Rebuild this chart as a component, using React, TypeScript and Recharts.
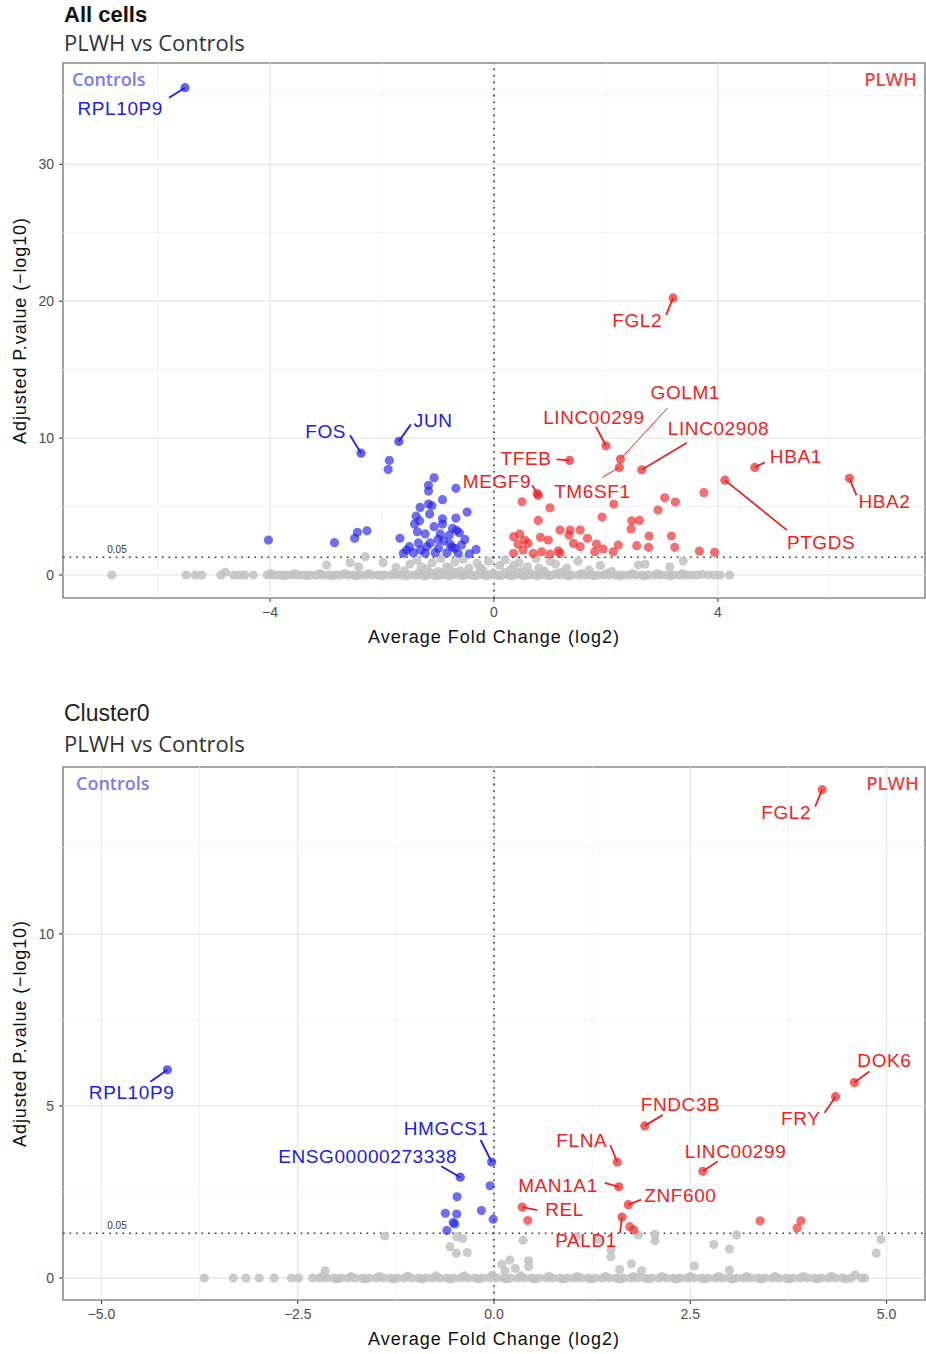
import React from "react";
import {
  ScatterChart,
  Scatter,
  XAxis,
  YAxis,
  ReferenceLine,
  ReferenceArea,
} from "recharts";

type Pt = [number, number];
type Gene = { gene: string; x: number; y: number; side: "down" | "up" };
type Place = [number, number, "start" | "middle" | "end", number, number];

// ---- All cells ----
const allXTicks = [-4, 0, 4];
const allXMinor = [-6, -2, 2, 6];
const allYTicks = [0, 10, 20, 30];
const allYMinor = [5, 15, 25, 35];

const allNs: Pt[] = [
  [-6.83, 0], [-5.5, 0], [-5.34, 0], [-5.22, 0], [-4.88, 0], [-4.8, 0.2], [-4.65, 0], [-4.54, 0], [-4.45, 0], [-4.3, 0],
  [-4.05, 0], [-3.93, 0], [-3.84, 0], [-3.71, 0], [-3.62, 0], [-3.5, 0], [-3.41, 0], [-3.28, 0], [-3.17, 0], [-3.06, 0],
  [-2.95, 0], [-2.83, 0], [-2.74, 0], [-2.61, 0], [-2.52, 0], [-2.4, 0], [-2.31, 0], [-2.18, 0], [-2.07, 0], [-1.96, 0],
  [-1.85, 0], [-1.73, 0], [-1.64, 0], [-1.52, 0], [-1.41, 0], [-1.3, 0], [-1.19, 0], [-1.08, 0], [-0.97, 0], [-0.86, 0],
  [-0.74, 0], [-0.63, 0], [-0.52, 0], [-0.41, 0], [-0.3, 0], [-0.19, 0], [-0.08, 0], [0.04, 0], [0.15, 0], [0.26, 0],
  [0.37, 0], [0.49, 0], [0.6, 0], [0.71, 0], [0.83, 0], [0.94, 0], [1.05, 0], [1.17, 0], [1.28, 0], [1.39, 0],
  [1.51, 0], [1.62, 0], [1.73, 0], [1.85, 0], [1.96, 0], [2.07, 0], [2.19, 0], [2.3, 0], [2.41, 0], [2.53, 0],
  [2.64, 0], [2.75, 0], [2.87, 0], [2.98, 0], [3.09, 0], [3.21, 0], [3.32, 0], [3.43, 0], [3.62, 0], [3.83, 0],
  [4.04, 0], [4.21, 0],
  [-3.99, 0.1], [-3.77, -0.05], [-3.56, 0.1], [-3.34, -0.05], [-3.11, 0.1], [-2.89, -0.05], [-2.67, 0.1],
  [-2.46, -0.05], [-2.24, 0.1], [-2.01, -0.05], [-1.79, 0.1], [-1.58, -0.05], [-1.35, 0.12], [-1.24, -0.05],
  [-1.13, 0.15], [-1.02, -0.05], [-0.91, 0.18], [-0.8, -0.05], [-0.68, 0.2], [-0.57, -0.05], [-0.46, 0.15],
  [-0.35, -0.05], [-0.24, 0.2], [-0.13, -0.05], [-0.02, 0.15], [0.09, -0.05], [0.2, 0.18], [0.31, -0.05],
  [0.43, 0.15], [0.54, -0.05], [0.65, 0.12], [0.77, -0.05], [0.88, 0.12], [0.99, -0.05], [1.11, 0.1],
  [1.33, -0.05], [1.56, 0.1], [1.79, -0.05], [2.01, 0.1], [2.24, -0.05], [2.47, 0.1], [2.69, -0.05],
  [2.92, 0.1], [3.15, -0.05], [3.37, 0.1], [3.52, 0], [3.72, 0.05], [3.94, 0],
  [-2.99, 0.73], [-2.57, 0.9], [-2.3, 1.34], [-2.42, 0.6], [-1.98, 0.9], [-1.75, 0.55], [-1.5, 0.8], [-1.38, 1.1],
  [-1.2, 0.45], [-1.1, 0.9], [-0.95, 1.2], [-0.85, 0.6], [-0.7, 0.95], [-0.55, 1.15], [-0.45, 0.5], [-0.3, 0.85],
  [-0.2, 0.35], [-0.1, 1.0], [0.1, 0.7], [0.2, 1.1], [0.3, 0.4], [0.45, 0.9], [0.6, 0.6], [0.75, 1.2], [0.9, 0.3],
  [1.1, 0.8], [1.3, 0.5], [1.5, 1.0], [1.7, 0.35], [1.9, 0.7], [2.1, 0.25], [2.58, 0.73], [2.7, 0.8], [3.14, 0.6],
  [3.38, 1.02], [-1.6, 0.3], [-1.0, 0.25], [-0.6, 0.3], [0.5, 0.25], [1.2, 0.2], [-1.3, 0.6], [-0.8, 0.45],
  [-0.25, 0.55], [0.35, 0.7], [0.8, 0.5], [1.0, 1.0],
];

const allDown: Pt[] = [
  [-1.87, 8.37], [-1.89, 7.7], [-1.07, 7.1], [-1.17, 6.55], [-1.17, 6.13], [-0.68, 6.33], [-0.92, 5.5], [-1.32, 4.94],
  [-1.17, 5.18], [-1.11, 5.06], [-0.48, 4.6], [-1.15, 4.45], [-0.68, 4.16], [-1.39, 4.3], [-1.42, 3.72], [-1.33, 3.96],
  [-0.92, 4.1], [-0.92, 3.72], [-1.07, 3.53], [-0.74, 3.4], [-0.67, 3.26], [-1.37, 3.16], [-1.23, 3.0], [-0.96, 3.0],
  [-0.8, 2.9], [-0.62, 3.09], [-1.68, 2.68], [-0.52, 2.6], [-1.35, 2.34], [-1.14, 2.34], [-0.79, 2.26], [-1.51, 2.07],
  [-1.2, 2.07], [-0.99, 1.95], [-0.7, 1.95], [-0.32, 1.87], [-1.62, 1.58], [-1.44, 1.63], [-1.23, 1.58], [-1.05, 1.63],
  [-0.84, 1.63], [-0.64, 1.58], [-0.44, 1.55], [-1.56, 1.82], [-1.31, 1.82], [-4.03, 2.55], [-2.85, 2.36],
  [-2.49, 2.68], [-2.44, 3.12], [-2.27, 3.23], [-0.9, 2.5], [-0.75, 2.05], [-1.0, 2.6], [-0.58, 2.2],
];

const allUp: Pt[] = [
  [0.5, 5.35], [0.77, 5.96], [1.0, 4.91], [2.14, 5.18], [1.93, 4.23], [0.79, 3.99], [3.05, 5.64], [3.24, 5.33],
  [3.75, 6.01], [2.93, 4.74], [2.46, 3.96], [2.6, 3.99], [2.45, 3.36], [1.18, 3.28], [1.36, 3.28], [1.54, 3.28],
  [1.34, 2.92], [1.67, 2.68], [2.77, 2.85], [3.17, 2.85], [0.35, 2.8], [0.46, 2.99], [0.83, 2.75], [0.97, 2.55],
  [0.61, 2.31], [1.54, 2.07], [1.83, 2.26], [2.22, 2.19], [2.55, 2.14], [2.76, 2.02], [3.23, 2.02], [3.67, 1.75],
  [3.94, 1.66], [2.13, 1.7], [1.95, 1.9], [1.8, 1.7], [0.35, 1.58], [0.52, 1.82], [0.7, 1.58], [0.85, 1.7],
  [1.0, 1.53], [1.15, 1.77], [1.42, 2.31], [1.18, 1.58], [0.43, 2.26], [0.55, 2.55],
];

const allGenes: Gene[] = [
  { gene: "RPL10P9", x: -5.52, y: 35.6, side: "down" },
  { gene: "FOS", x: -2.375, y: 8.9, side: "down" },
  { gene: "JUN", x: -1.7, y: 9.76, side: "down" },
  { gene: "FGL2", x: 3.2, y: 20.24, side: "up" },
  { gene: "GOLM1", x: 2.26, y: 8.47, side: "up" },
  { gene: "LINC00299", x: 2.0, y: 9.44, side: "up" },
  { gene: "LINC02908", x: 2.64, y: 7.69, side: "up" },
  { gene: "TFEB", x: 1.35, y: 8.37, side: "up" },
  { gene: "TM6SF1", x: 2.24, y: 7.86, side: "up" },
  { gene: "MEGF9", x: 0.79, y: 5.82, side: "up" },
  { gene: "HBA1", x: 4.66, y: 7.86, side: "up" },
  { gene: "HBA2", x: 6.35, y: 7.06, side: "up" },
  { gene: "PTGDS", x: 4.125, y: 6.93, side: "up" },
];

// label text offset (dx, dy, anchor) and leader end (lx, ly), in pixels
const allPlace: Record<string, Place> = {
  RPL10P9: [-22, 27, "end", -16, 10],
  FOS: [-15, -15, "end", -11, -18],
  JUN: [15, -14, "start", 12, -17],
  FGL2: [-11, 29, "end", -7, 17],
  GOLM1: [30, -60, "start", 47, -51],
  LINC00299: [-12, -22, "middle", -10, -19],
  LINC02908: [26, -35, "start", 45, -27],
  TFEB: [-18, 5, "end", -13, -1],
  TM6SF1: [-27, 31, "middle", -17, 10],
  MEGF9: [-7, -7, "end", -6, -10],
  HBA1: [15, -4, "start", 10, -5],
  HBA2: [9, 30, "start", 7, 17],
  PTGDS: [62, 69, "start", 62, 50],
};

// ---- Cluster0 ----
const c0XTicks = [-5, -2.5, 0, 2.5, 5];
const c0XMinor = [-3.75, -1.25, 1.25, 3.75];
const c0YTicks = [0, 5, 10];
const c0YMinor = [2.5, 7.5, 12.5];

const c0Ns: Pt[] = [
  [-3.69, 0], [-3.32, 0], [-3.16, 0], [-2.99, 0], [-2.8, 0], [-2.58, 0], [-2.49, 0], [-2.31, 0], [-2.15, 0.21],
  [-2.22, 0], [-2.13, 0], [-2.04, 0], [-1.95, 0], [-1.86, 0], [-1.77, 0], [-1.68, 0], [-1.59, 0], [-1.5, 0],
  [-1.41, 0], [-1.32, 0], [-1.23, 0], [-1.14, 0], [-1.05, 0], [-0.96, 0], [-0.87, 0], [-0.78, 0], [-0.69, 0],
  [-0.6, 0], [-0.51, 0], [-0.42, 0], [-0.33, 0], [-0.24, 0], [-0.15, 0], [-0.06, 0], [0.03, 0], [0.12, 0],
  [0.21, 0], [0.3, 0], [0.39, 0], [0.48, 0], [0.57, 0], [0.66, 0], [0.75, 0], [0.84, 0], [0.93, 0], [1.02, 0],
  [1.11, 0], [1.2, 0], [1.29, 0], [1.38, 0], [1.47, 0], [1.56, 0], [1.65, 0], [1.74, 0], [1.83, 0], [1.92, 0],
  [2.01, 0], [2.1, 0], [2.19, 0], [2.28, 0], [2.37, 0], [2.46, 0], [2.55, 0], [2.64, 0], [2.73, 0], [2.82, 0],
  [2.91, 0], [3.0, 0], [3.09, 0], [3.18, 0], [3.27, 0], [3.36, 0], [3.45, 0], [3.54, 0], [3.63, 0], [3.72, 0],
  [3.81, 0], [3.9, 0], [3.99, 0], [4.08, 0], [4.17, 0], [4.26, 0], [4.35, 0], [4.44, 0], [4.55, 0], [4.6, 0.09],
  [4.68, 0], [4.72, 0],
  [-2.18, 0.04], [-2.0, -0.03], [-1.82, 0.04], [-1.64, -0.03], [-1.46, 0.04], [-1.28, -0.03], [-1.1, 0.05],
  [-0.92, -0.03], [-0.74, 0.06], [-0.56, -0.03], [-0.38, 0.06], [-0.2, -0.03], [-0.02, 0.08], [0.16, -0.03],
  [0.34, 0.06], [0.52, -0.03], [0.7, 0.05], [0.88, -0.03], [1.06, 0.04], [1.24, -0.03], [1.42, 0.04],
  [1.6, -0.03], [1.78, 0.04], [1.96, -0.03], [2.14, 0.04], [2.32, -0.03], [2.5, 0.04], [2.68, -0.03],
  [2.86, 0.04], [3.04, -0.03], [3.22, 0.04], [3.4, -0.03], [3.58, 0.04], [3.76, -0.03], [3.94, 0.04],
  [4.12, -0.03], [4.3, 0.04], [4.48, -0.03],
  [-1.39, 1.22], [-0.56, 0.91], [-0.48, 0.72], [-0.34, 0.74], [-0.475, 1.2], [-0.4, 1.15], [0.37, 1.1],
  [2.05, 1.27], [2.05, 1.08], [1.84, 1.25], [1.33, 1.13], [1.49, 0.83], [1.49, 0.62], [2.8, 0.97], [3.0, 0.84],
  [3.09, 1.25], [3.0, 0.23], [2.55, 0.35], [4.93, 1.12], [4.87, 0.72], [0.2, 0.52], [0.44, 0.5], [0.44, 0.33],
  [0.27, 0.28], [0.14, 0.21], [1.6, 0.25], [1.75, 0.41], [1.88, 0.21], [1.05, 1.2], [0.1, 0.4],
];

const c0Down: Pt[] = [
  [-0.05, 2.68], [-0.47, 2.36], [-0.62, 1.88], [-0.475, 1.86], [-0.16, 1.96], [-0.01, 1.71], [-0.52, 1.61],
  [-0.5, 1.57], [-0.6, 1.38],
];

const c0Up: Pt[] = [
  [0.43, 1.67], [1.73, 1.49], [1.78, 1.4], [3.39, 1.66], [3.91, 1.66], [3.86, 1.45],
];

const c0Genes: Gene[] = [
  { gene: "RPL10P9", x: -4.16, y: 6.05, side: "down" },
  { gene: "HMGCS1", x: -0.03, y: 3.37, side: "down" },
  { gene: "ENSG00000273338", x: -0.43, y: 2.93, side: "down" },
  { gene: "FGL2", x: 4.18, y: 14.19, side: "up" },
  { gene: "DOK6", x: 4.59, y: 5.68, side: "up" },
  { gene: "FRY", x: 4.35, y: 5.27, side: "up" },
  { gene: "FNDC3B", x: 1.92, y: 4.42, side: "up" },
  { gene: "FLNA", x: 1.57, y: 3.37, side: "up" },
  { gene: "LINC00299", x: 2.66, y: 3.1, side: "up" },
  { gene: "MAN1A1", x: 1.59, y: 2.65, side: "up" },
  { gene: "ZNF600", x: 1.71, y: 2.13, side: "up" },
  { gene: "REL", x: 0.36, y: 2.06, side: "up" },
  { gene: "PALD1", x: 1.63, y: 1.77, side: "up" },
];

const c0Place: Record<string, Place> = {
  RPL10P9: [7, 29, "end", -17, 12],
  HMGCS1: [-3, -27, "end", -11, -22],
  ENSG00000273338: [-3, -14, "end", -19, -11],
  FGL2: [-11, 29, "end", -7, 17],
  DOK6: [3, -16, "start", 15, -11],
  FRY: [-15, 28, "end", -11, 16],
  FNDC3B: [-4, -15, "start", 18, -11],
  FLNA: [-10, -15, "end", -7, -17],
  LINC00299: [-18, -13, "start", 15, -10],
  MAN1A1: [-21, 5, "end", -14, -4],
  ZNF600: [16, -3, "start", 13, -5],
  REL: [23, 9, "start", 15, 3],
  PALD1: [-5, 30, "end", -2, 16],
};

const THRESH = -Math.log10(0.05);
const BLUE = "#2020e6";
const RED = "#ee2222";
const GREY = "#c2c2c2";
const SANS = "'Liberation Sans', Arial, sans-serif";
const minus = (s: string) => s.replace("-", "\u2212");

const toPts = (a: Pt[]) => a.map(([x, y]) => ({ x, y }));

const dot = (fill: string, op: number) => (p: any) =>
  <circle cx={p.cx} cy={p.cy} r={4.6} fill={fill} fillOpacity={op} />;

function GeneMark(props: any) {
  const { cx, cy, payload, place } = props;
  const [dx, dy, anchor, lx, ly] = place[payload.gene] as Place;
  const col = payload.side === "down" ? BLUE : RED;
  const thin = payload.gene === "GOLM1" || payload.gene === "TM6SF1";
  return (
    <g>
      <line x1={cx} y1={cy} x2={cx + lx} y2={cy + ly} stroke={col} strokeWidth={thin ? 1 : 1.8} />
      <circle cx={cx} cy={cy} r={4.6} fill={col} fillOpacity={0.7} />
      <text x={cx + dx} y={cy + dy} textAnchor={anchor} fill={col} fontSize={19}
        fontFamily={SANS} letterSpacing={0.6}>
        {payload.gene}
      </text>
    </g>
  );
}

function XTitle(props: any) {
  const { viewBox } = props;
  return (
    <text x={viewBox.x + viewBox.width / 2} y={viewBox.y + 45} textAnchor="middle"
      fontSize={18} fontFamily={SANS} letterSpacing={1} fill="#111">
      Average Fold Change (log2)
    </text>
  );
}

function YTitle(props: any) {
  const { viewBox } = props;
  const cy = viewBox.y + viewBox.height / 2;
  return (
    <text x={26} y={cy} transform={`rotate(-90, 26, ${cy})`} textAnchor="middle"
      fontSize={18} fontFamily={SANS} letterSpacing={0.9} fill="#111">
      Adjusted P.value (−log10)
    </text>
  );
}

function ThreshLabel(props: any) {
  const { viewBox } = props;
  return (
    <text x={viewBox.x + 54} y={viewBox.y - 4} textAnchor="middle" fontSize={10}
      fontFamily={SANS} fill="#333">
      0.05
    </text>
  );
}

interface VolcanoProps {
  top: number;
  height: number;
  marginTop: number;
  marginBottom: number;
  xDomain: [number, number];
  yDomain: [number, number];
  xTicks: number[];
  xMinor: number[];
  yTicks: number[];
  yMinor: number[];
  xFmt: (v: number) => string;
  ns: Pt[];
  down: Pt[];
  up: Pt[];
  genes: Gene[];
  place: Record<string, Place>;
}

function Volcano(p: VolcanoProps) {
  return (
    <div style={{ position: "absolute", left: 0, top: p.top }}>
      <ScatterChart width={926} height={p.height}
        margin={{ top: p.marginTop, right: 1, bottom: p.marginBottom, left: 0 }}>
        <XAxis type="number" dataKey="x" domain={p.xDomain} allowDataOverflow ticks={p.xTicks}
          interval={0} tickFormatter={p.xFmt} axisLine={false} tickSize={4} tickMargin={5} height={50}
          tickLine={{ stroke: "#333" }} tick={{ fill: "#4d4d4d", fontSize: 14, fontFamily: SANS }}
          label={<XTitle />} />
        <YAxis type="number" dataKey="y" domain={p.yDomain} allowDataOverflow ticks={p.yTicks}
          interval={0} axisLine={false} tickSize={4} tickMargin={5} width={63}
          tickLine={{ stroke: "#333" }} tick={{ fill: "#4d4d4d", fontSize: 14, fontFamily: SANS }}
          label={<YTitle />} />
        {p.xMinor.map((v) => <ReferenceLine key={"xm" + v} x={v} stroke="#f2f2f2" strokeWidth={1} />)}
        {p.yMinor.map((v) => <ReferenceLine key={"ym" + v} y={v} stroke="#f2f2f2" strokeWidth={1} />)}
        {p.xTicks.map((v) => <ReferenceLine key={"xj" + v} x={v} stroke="#e8e8e8" strokeWidth={1.3} />)}
        {p.yTicks.map((v) => <ReferenceLine key={"yj" + v} y={v} stroke="#e8e8e8" strokeWidth={1.3} />)}
        <Scatter data={toPts(p.ns)} shape={dot(GREY, 0.85)} isAnimationActive={false} />
        <Scatter data={toPts(p.down)} shape={dot(BLUE, 0.65)} isAnimationActive={false} />
        <Scatter data={toPts(p.up)} shape={dot(RED, 0.65)} isAnimationActive={false} />
        <Scatter data={p.genes} shape={(s: any) => <GeneMark {...s} place={p.place} />}
          isAnimationActive={false} />
        <ReferenceLine x={0} stroke="#333" strokeWidth={1.6} strokeDasharray="1.6 5" />
        <ReferenceLine y={THRESH} stroke="#333" strokeWidth={1.6} strokeDasharray="1.6 5"
          label={<ThreshLabel />} />
        <ReferenceArea x1={p.xDomain[0]} x2={p.xDomain[1]} y1={p.yDomain[0]} y2={p.yDomain[1]}
          fill="none" stroke="#8a8a8a" strokeWidth={1.6} ifOverflow="visible" />
      </ScatterChart>
    </div>
  );
}

const txt = (s: React.CSSProperties): React.CSSProperties => ({
  position: "absolute",
  lineHeight: 1,
  whiteSpace: "nowrap",
  ...s,
});

export default function App() {
  return (
    <div style={{ position: "absolute", left: 0, top: 0, width: 926, height: 1354, background: "#fff" }}>
      <Volcano top={0} height={660} marginTop={63} marginBottom={12}
        xDomain={[-7.7, 7.7]} yDomain={[-1.68, 37.4]} xTicks={allXTicks} xMinor={allXMinor}
        yTicks={allYTicks} yMinor={allYMinor} xFmt={(v) => minus(String(v))}
        ns={allNs} down={allDown} up={allUp} genes={allGenes} place={allPlace} />
      <Volcano top={700} height={654} marginTop={67} marginBottom={4}
        xDomain={[-5.49, 5.49]} yDomain={[-0.64, 14.85]} xTicks={c0XTicks} xMinor={c0XMinor}
        yTicks={c0YTicks} yMinor={c0YMinor} xFmt={(v) => minus(v.toFixed(1))}
        ns={c0Ns} down={c0Down} up={c0Up} genes={c0Genes} place={c0Place} />

      <div style={txt({ left: 64, top: 4, fontFamily: SANS, fontWeight: 700, fontSize: 22, color: "#111" })}>
        All cells
      </div>
      <div style={txt({ left: 64, top: 31, fontFamily: "'Open Sans'", fontSize: 22, color: "#333" })}>
        PLWH vs Controls
      </div>
      <div style={txt({ left: 72, top: 70, fontFamily: "'Open Sans'", fontWeight: 600, fontSize: 18, color: "#7b7bee" })}>
        Controls
      </div>
      <div style={txt({ right: 9, top: 70, fontFamily: "'Open Sans'", fontWeight: 600, fontSize: 18.5, color: "#e8474b" })}>
        PLWH
      </div>

      <div style={txt({ left: 64, top: 702, fontFamily: SANS, fontSize: 23, color: "#222" })}>
        Cluster0
      </div>
      <div style={txt({ left: 64, top: 732, fontFamily: "'Open Sans'", fontSize: 22, color: "#333" })}>
        PLWH vs Controls
      </div>
      <div style={txt({ left: 76, top: 774, fontFamily: "'Open Sans'", fontWeight: 600, fontSize: 18, color: "#7b7bee" })}>
        Controls
      </div>
      <div style={txt({ right: 7, top: 774, fontFamily: "'Open Sans'", fontWeight: 600, fontSize: 18.5, color: "#e8474b" })}>
        PLWH
      </div>
    </div>
  );
}
